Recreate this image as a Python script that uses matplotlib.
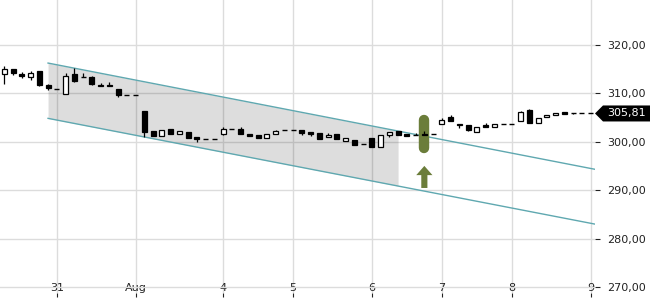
import matplotlib
matplotlib.use("Agg")
import matplotlib.pyplot as plt
from matplotlib.patches import Polygon
from matplotlib.transforms import blended_transform_factory

# hourly candles, index 0..67
opens = [314.0, 314.9, 313.9, 313.3, 314.6, 311.7, 310.9, 309.9, 314.0, 313.4,
         313.3, 311.75, 311.75, 310.8, 309.6, 309.6, 306.3, 302.2, 301.1, 302.6,
         301.5, 302.0, 301.0, 300.55, 300.55, 301.65, 302.6, 302.6, 301.6, 301.4,
         300.7, 301.65, 302.4, 302.4, 302.4, 302.0, 301.7, 300.9, 301.6, 300.2,
         300.3, 299.6, 300.8, 298.8, 301.3, 302.1, 301.65, 301.4, 301.6, 301.5,
         303.6, 305.0, 303.6, 303.4, 301.9, 303.5, 303.1, 303.6, 303.6, 304.3,
         306.5, 303.8, 305.0, 305.45, 306.1, 305.81, 305.81, 305.81]
highs = [315.5, 314.9, 314.3, 314.6, 314.6, 311.9, 310.9, 314.2, 315.1, 314.1,
         313.5, 312.0, 312.2, 310.8, 309.6, 309.6, 306.3, 302.2, 302.3, 302.6,
         302.1, 302.0, 301.0, 300.55, 300.55, 303.0, 302.6, 303.0, 301.6, 301.4,
         301.6, 302.5, 302.4, 302.4, 302.4, 302.0, 301.7, 301.7, 301.6, 300.8,
         300.3, 299.6, 300.8, 301.4, 302.0, 302.1, 301.65, 301.85, 302.1, 301.5,
         304.8, 305.5, 303.6, 303.4, 303.1, 303.8, 303.65, 303.6, 303.6, 306.4,
         306.7, 304.8, 305.5, 305.85, 306.1, 306.0, 305.81, 305.81]
lows = [311.9, 313.7, 313.1, 312.7, 311.5, 310.6, 310.9, 309.9, 312.3, 313.4,
        311.6, 311.4, 311.4, 309.3, 309.6, 309.6, 301.0, 301.2, 301.1, 301.5,
        301.5, 300.7, 299.9, 300.55, 300.55, 301.4, 302.6, 301.65, 301.2, 300.8,
        300.7, 301.65, 302.4, 302.4, 301.4, 301.2, 300.5, 300.9, 300.6, 300.2,
        299.4, 299.6, 298.9, 298.8, 301.0, 301.3, 301.2, 301.4, 301.3, 301.5,
        303.6, 304.2, 302.8, 302.1, 301.9, 303.1, 303.1, 303.6, 303.6, 304.3,
        303.9, 303.8, 305.0, 305.45, 305.8, 305.65, 305.81, 305.81]
closes = [314.9, 314.1, 313.6, 314.1, 311.7, 311.0, 310.9, 313.5, 312.6, 313.4,
          311.9, 311.4, 311.4, 309.6, 309.6, 309.6, 301.9, 301.2, 302.3, 301.5,
          302.1, 300.7, 300.5, 300.55, 300.55, 302.6, 302.6, 301.65, 301.2, 300.8,
          301.6, 302.1, 302.4, 302.4, 301.85, 301.5, 300.5, 301.4, 300.6, 300.8,
          299.4, 299.6, 298.9, 301.4, 302.0, 301.3, 301.2, 301.4, 301.3, 301.5,
          304.5, 304.2, 303.35, 302.4, 303.1, 303.1, 303.65, 303.6, 303.6, 306.1,
          303.9, 304.8, 305.5, 305.85, 305.8, 305.81, 305.81, 305.81]

day_pos = [6, 15, 25, 33, 42, 50, 58, 67]
day_labels = ["31", "Aug", "4", "5", "6", "7", "8", "9"]
y_ticks = [270, 280, 290, 300, 310, 320]
last_price = 305.81

# trend channel (start/end index, upper and lower values)
chan_x = [5, 67.5]
chan_upper = [316.2, 294.3]
chan_lower = [304.8, 283.0]
shade_end = 45

# signal marker
signal_x = 48
pill_y = [298.6, 304.5]
arrow_y = [290.45, 295.0]

green = "#6b7d3a"
teal = "#5fa8b0"

fig = plt.figure(figsize=(6.5, 3), dpi=100)
ax = fig.add_axes([0, 7 / 300, 595 / 650, 293 / 300])
ax.set_xlim(-0.49, 67.5)
ax.set_ylim(268.8, 329.2)

for s in ax.spines.values():
    s.set_visible(False)
ax.grid(True, color="#dcdcdc", lw=1)
ax.set_axisbelow(True)

# channel
def chan(v, x):
    return v[0] + (v[1] - v[0]) * (x - chan_x[0]) / (chan_x[1] - chan_x[0])

ax.fill_between([chan_x[0], shade_end],
                [chan(chan_upper, chan_x[0]), chan(chan_upper, shade_end)],
                [chan(chan_lower, chan_x[0]), chan(chan_lower, shade_end)],
                color="black", alpha=0.135, lw=0, zorder=1.5)
ax.plot(chan_x, chan_upper, color=teal, lw=1, zorder=2)
ax.plot(chan_x, chan_lower, color=teal, lw=1, zorder=2)

# signal
ax.plot([signal_x, signal_x], pill_y, color=green, lw=7.5,
        solid_capstyle="round", zorder=2.5)
ax.arrow(signal_x, arrow_y[0], 0, arrow_y[1] - arrow_y[0], width=0.7,
         head_width=1.85, head_length=1.9, length_includes_head=True,
         color=green, lw=0, zorder=2.5)

# candles
bw = 0.57
for i in range(len(opens)):
    o, h, l, c = opens[i], highs[i], lows[i], closes[i]
    ax.vlines(i, l, h, color="black", lw=0.9, zorder=3)
    if abs(c - o) < 0.05:
        ax.hlines(o, i - bw / 2, i + bw / 2, color="black", lw=1, zorder=4)
    else:
        face = "white" if c > o else "black"
        ax.bar(i, abs(c - o), bottom=min(o, c), width=bw, facecolor=face,
               edgecolor="black", lw=0.9, zorder=4)

ax.set_xticks(day_pos)
ax.set_xticklabels(day_labels)
ax.set_yticks(y_ticks)
ax.set_yticklabels([("%.2f" % v).replace(".", ",") for v in y_ticks])
ax.tick_params(axis="x", direction="out", length=3, width=0.8, pad=-10,
               labelsize=8, colors="#222222")
ax.tick_params(axis="y", left=False, labelleft=False, right=True,
               labelright=True, direction="out", length=3.6, width=0.8,
               pad=5, labelsize=8, colors="#222222")

# last price tag
tr = blended_transform_factory(fig.transFigure, ax.transData)
hh = 1.65
tag = Polygon([(595 / 650, last_price), (603 / 650, last_price + hh),
               (1.0, last_price + hh), (1.0, last_price - hh),
               (603 / 650, last_price - hh)],
              closed=True, facecolor="black", edgecolor="none",
              transform=tr, clip_on=False, zorder=10)
ax.add_patch(tag)
ax.text(607 / 650, last_price, ("%.2f" % last_price).replace(".", ","),
        transform=tr, color="white", fontsize=8, va="center", ha="left",
        zorder=11, clip_on=False)

fig.savefig("out.png", dpi=100)
